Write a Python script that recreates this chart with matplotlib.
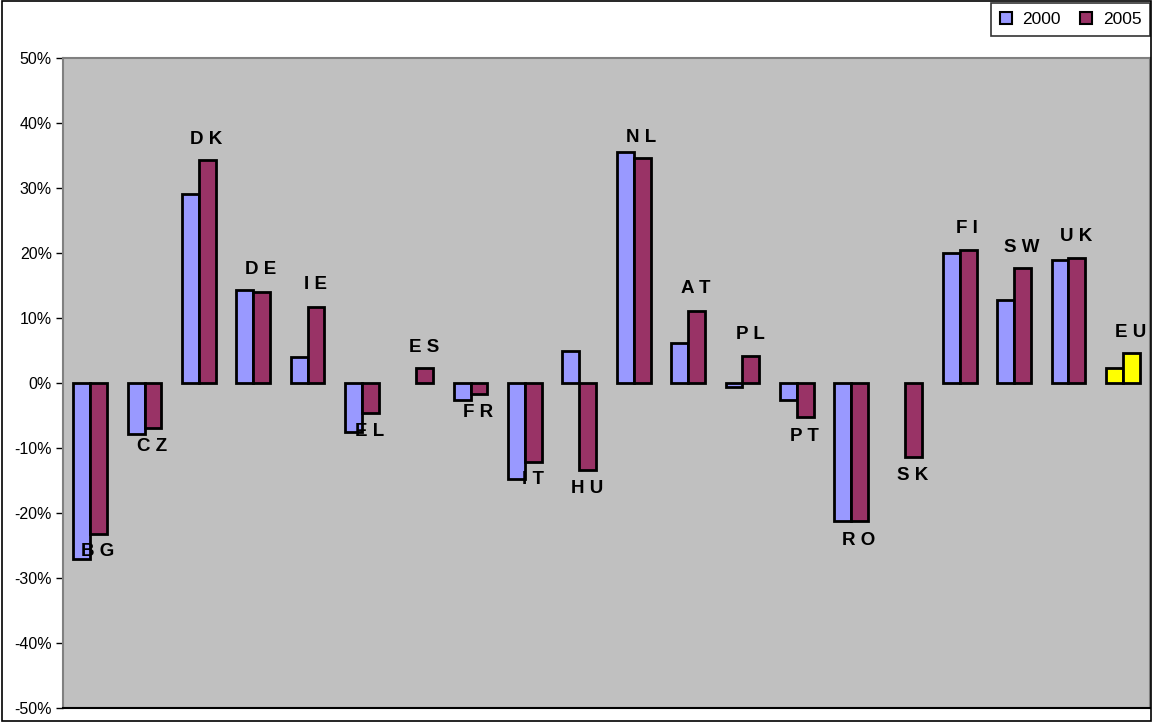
import numpy as np
import matplotlib.pyplot as plt
from matplotlib.patches import Patch, Rectangle
from matplotlib.ticker import FuncFormatter

plt.rcParams["font.family"] = ["Liberation Sans", "DejaVu Sans"]

countries = ["BG", "CZ", "DK", "DE", "IE", "EL", "ES", "FR", "IT", "HU",
             "NL", "AT", "PL", "PT", "RO", "SK", "FI", "SW", "UK", "EU"]
# None = no value for that year
v2000 = [-27.1, -7.8, 29.1, 14.3, 4.0, -7.5, None, -2.6, -14.8, 4.9,
         35.5, 6.2, -0.6, -2.6, -21.2, None, 20.0, 12.8, 18.9, 2.3]
v2005 = [-23.2, -6.9, 34.3, 14.0, 11.7, -4.6, 2.3, -1.7, -12.2, -13.4,
         34.6, 11.1, 4.2, -5.2, -21.2, -11.4, 20.5, 17.7, 19.2, 4.6]
# label series (hidden in the original, only its data labels show)
label_y = [-26.0, -9.7, 37.4, 17.4, 15.1, -7.5, 5.5, -4.5, -14.9, -16.3,
           37.8, 14.5, 7.5, -8.2, -24.2, -14.3, 23.8, 20.9, 22.6, 7.8]

c2000 = "#9999FF"
c2005 = "#993366"
c_eu = "#FFFF00"

a2000 = np.array([np.nan if v is None else v for v in v2000], dtype=float)
a2005 = np.array([np.nan if v is None else v for v in v2005], dtype=float)

fig = plt.figure(figsize=(11.53, 7.22), dpi=100)
ax = fig.add_axes([63 / 1153, 14 / 722, 1087 / 1153, 650 / 722])
ax.set_facecolor("#C0C0C0")

x = np.arange(len(countries))
w = 0.31
cols1 = [c_eu if c == "EU" else c2000 for c in countries]
cols2 = [c_eu if c == "EU" else c2005 for c in countries]
ok1 = ~np.isnan(a2000)
ok2 = ~np.isnan(a2005)
ax.bar(x[ok1] - w / 2, a2000[ok1], w, color=np.array(cols1)[ok1], edgecolor="black",
       linewidth=2.0, zorder=3)
ax.bar(x[ok2] + w / 2, a2005[ok2], w, color=np.array(cols2)[ok2], edgecolor="black",
       linewidth=2.0, zorder=3)

for xi, yi, name in zip(x, label_y, countries):
    ax.text(xi + 0.14, yi, " ".join(name), ha="center", va="center",
            fontsize=13.5, fontweight="bold", zorder=4)

ax.set_xlim(-0.5, len(countries) - 0.5)
ax.set_ylim(-50, 50)
ax.set_yticks(np.arange(-50, 51, 10))
ax.yaxis.set_major_formatter(FuncFormatter(lambda v, p: f"{int(round(v))}%"))
ax.tick_params(axis="y", labelsize=11.5, length=5, width=1, direction="out", pad=3)
ax.set_xticks([])
for s in ["top", "right", "left"]:
    ax.spines[s].set_color("#808080")
    ax.spines[s].set_linewidth(1.5)
ax.spines["bottom"].set_color("black")
ax.spines["bottom"].set_linewidth(1.5)

# outer chart border
fig.patches.append(Rectangle((0.002, 0.001), 0.996, 0.998, transform=fig.transFigure,
                             fill=False, edgecolor="black", linewidth=1.2))

handles = [Patch(facecolor=c2000, edgecolor="black", linewidth=1.5, label="2000"),
           Patch(facecolor=c2005, edgecolor="black", linewidth=1.5, label="2005")]
leg = fig.legend(handles=handles, loc="upper right", bbox_to_anchor=(1150 / 1153, 1 - 3 / 722),
                 ncol=2, fontsize=12.5, frameon=True, fancybox=False, handlelength=0.7,
                 handleheight=0.7, handletextpad=0.6, columnspacing=1.1,
                 borderpad=0.5, borderaxespad=0)
leg.get_frame().set_edgecolor("black")
leg.get_frame().set_linewidth(1.2)

fig.savefig("out.png", dpi=100)
